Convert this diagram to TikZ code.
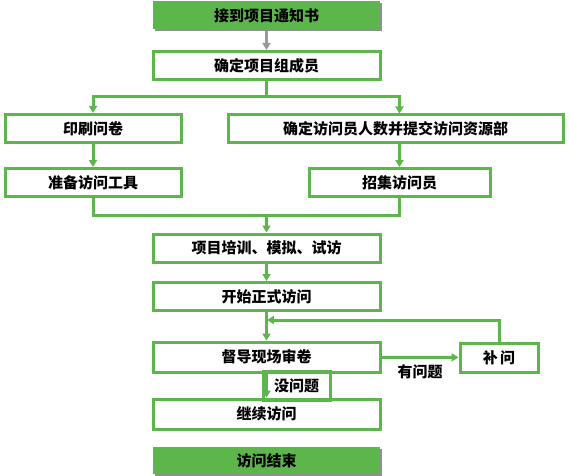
\documentclass[tikz,border=0pt]{standalone}
\usepackage{fontspec}
\setmainfont{Noto Sans CJK SC}
\usepackage{xcolor}
\usetikzlibrary{shadows,arrows.meta}
\definecolor{flowgreen}{RGB}{92,182,76}

\begin{document}
\begin{tikzpicture}[x=1pt, y=-1pt,
  box/.style={draw=flowgreen, line width=3pt, fill=white, text=black, minimum width=227pt, minimum height=28pt, align=center, font=\fontsize{15}{17}\selectfont\bfseries, inner sep=0pt},
  term/.style={box, draw=none, fill=flowgreen, drop shadow={shadow xshift=1.5pt, shadow yshift=-2pt, fill=black!55, opacity=0.8}},
  tag/.style={draw=flowgreen, line width=3pt, text=black, minimum width=67pt, minimum height=29pt, inner sep=0pt, font=\fontsize{15}{17}\selectfont\bfseries},
  line/.style={flowgreen, line width=3pt},
  arrow/.style={line, -{Triangle[length=7pt, width=8pt]}}
]
  \useasboundingbox (0,0) rectangle (570,476);

  % Top
  \node[term] (begin) at (266.5, 15.5) {接到项目通知书};
  \node[box] (team) at (266.5, 65.5) {确定项目组成员};

  % Two branches
  \node[box, minimum width=176pt] (print) at (93, 128.5) {印刷问卷};
  \node[box, minimum width=335pt] (plan) at (395.5, 129) {确定访问员人数并提交访问资源部};
  \node[box, minimum width=176pt] (tools) at (93, 182.5) {准备访问工具};
  \node[box, minimum width=181pt] (recruit) at (399.5, 182.5) {招集访问员};

  % Main column
  \node[box] (train) at (266.5, 248) {项目培训、模拟、试访};
  \node[box] (formal) at (266.5, 296.5) {开始正式访问};
  \node[box, minimum height=30pt] (review) at (266.5, 357) {督导现场审卷};
  \node[box, minimum width=78pt, minimum height=29pt] (redo) at (499, 357.5) {补\,问};
  \node[box, minimum height=30pt] (continue) at (266.5, 414) {继续访问};
  \node[term, minimum height=27pt] (finish) at (266.5, 460.5) {访问结束};

  \coordinate (split) at (266.5, 97);
  \coordinate (merge) at (266.5, 215);
  \coordinate (loop) at (267, 320);

  % Arrows
  \draw[line, black!40, -{Triangle[length=7pt, width=8pt]}] (begin) -- (team);
  \draw[line] (team.south) -- (split);
  \draw[arrow] (split) -| (print.north);
  \draw[arrow] (split) -| (recruit.north |- plan.north);
  \draw[arrow] (print) -- (tools);
  \draw[arrow] (recruit |- plan.south) -- (recruit.north);
  \draw[line] (tools.south) |- (merge) -| (recruit.south);
  \draw[arrow] (merge) -- (train);
  \draw[arrow] (train) -- (formal);
  \draw[arrow] (formal) -- (review);
  \draw[arrow] (review) -- node[below=2pt, text=black, font=\fontsize{15}{17}\selectfont\bfseries] (yes) {有问题} (redo);
  \draw[arrow] (redo.north) |- (loop);
  \draw[arrow] (review) -- (continue);
  \node[tag] (no) at (296.5, 385.5) {没问题};
\end{tikzpicture}
\end{document}
